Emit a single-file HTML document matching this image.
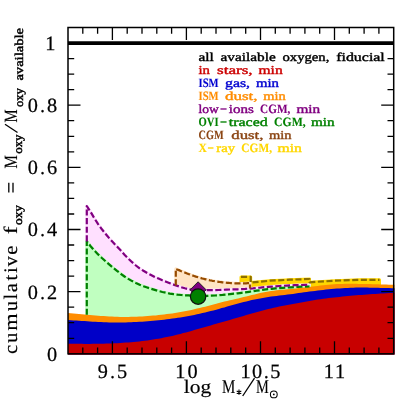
<!DOCTYPE html>
<html><head><meta charset="utf-8"><title>chart</title>
<style>
html,body{margin:0;padding:0;background:#fff;width:399px;height:399px;overflow:hidden;}
svg{display:block;position:absolute;left:0;top:0;will-change:transform;}
text{font-family:"Liberation Serif",serif;text-rendering:geometricPrecision;}
</style></head>
<body>
<svg width="399" height="399" viewBox="0 0 399 399">
<rect x="0" y="0" width="399" height="399" fill="#fff"/>
<path d="M241.0,276.9 L250.7,276.9 L250.7,282.6 L270.0,280.7 L290.0,279.7 L309.5,279.0 L309.5,282.3 L335.0,280.7 L360.0,279.8 L379.5,279.8 L379.5,287.4 L377.2,287.3 L374.8,287.3 L372.5,287.2 L370.1,287.1 L367.8,287.1 L365.4,287.0 L363.1,287.0 L360.7,286.9 L358.4,286.9 L356.0,286.8 L353.7,286.8 L351.3,286.8 L349.0,286.8 L346.6,286.8 L344.3,286.8 L341.9,286.9 L339.6,287.0 L337.2,287.1 L334.9,287.2 L332.6,287.4 L330.2,287.6 L327.9,287.8 L325.5,288.0 L323.2,288.2 L320.8,288.5 L318.5,288.8 L316.1,289.1 L313.8,289.3 L311.4,289.6 L309.1,289.9 L306.7,290.2 L304.4,290.5 L302.0,290.7 L299.7,291.0 L297.3,291.2 L295.0,291.5 L292.6,291.7 L290.3,292.0 L287.9,292.2 L285.6,292.4 L283.3,292.7 L280.9,292.9 L278.6,293.1 L276.2,293.4 L273.9,293.6 L271.5,294.0 L269.2,294.3 L266.8,294.8 L264.5,295.2 L262.1,295.7 L259.8,296.2 L257.4,296.7 L255.1,297.3 L252.7,297.9 L250.4,298.4 L248.0,299.0 L245.7,299.6 L243.3,300.2 L241.0,300.8Z" fill="#ffd700" stroke="#ffd700" stroke-width="3.0" stroke-linejoin="round"/>
<path d="M175.8,268.8 L177.1,269.4 L178.3,269.9 L179.6,270.4 L180.8,271.0 L182.1,271.5 L183.3,272.0 L184.6,272.5 L185.9,273.0 L187.1,273.5 L188.4,274.0 L189.6,274.4 L190.9,274.9 L192.1,275.3 L193.4,275.8 L194.7,276.2 L195.9,276.6 L197.2,277.0 L198.4,277.4 L199.7,277.8 L201.0,278.1 L202.2,278.5 L203.5,278.8 L204.7,279.1 L206.0,279.4 L207.2,279.7 L208.5,280.0 L209.8,280.3 L211.0,280.5 L212.3,280.8 L213.5,281.0 L214.8,281.2 L216.0,281.4 L217.3,281.6 L218.6,281.8 L219.8,282.0 L221.1,282.1 L222.3,282.3 L223.6,282.4 L224.8,282.5 L226.1,282.7 L227.4,282.8 L228.6,282.9 L229.9,283.0 L231.1,283.1 L232.4,283.1 L233.7,283.2 L234.9,283.3 L236.2,283.3 L237.4,283.4 L238.7,283.4 L239.9,283.4 L241.2,283.4 L242.5,283.4 L243.7,283.4 L245.0,283.3 L246.2,283.3 L247.5,283.2 L248.7,283.1 L250.0,283.0 L250.0,298.5 L248.7,298.8 L247.5,299.2 L246.2,299.5 L245.0,299.8 L243.7,300.1 L242.5,300.4 L241.2,300.7 L239.9,301.0 L238.7,301.3 L237.4,301.6 L236.2,301.9 L234.9,302.2 L233.7,302.5 L232.4,302.8 L231.1,303.1 L229.9,303.3 L228.6,303.6 L227.4,303.9 L226.1,304.2 L224.8,304.5 L223.6,304.8 L222.3,305.2 L221.1,305.5 L219.8,305.8 L218.6,306.1 L217.3,306.5 L216.0,306.8 L214.8,307.1 L213.5,307.5 L212.3,307.8 L211.0,308.1 L209.8,308.5 L208.5,308.8 L207.2,309.1 L206.0,309.4 L204.7,309.8 L203.5,310.1 L202.2,310.4 L201.0,310.7 L199.7,311.0 L198.4,311.3 L197.2,311.6 L195.9,311.9 L194.7,312.2 L193.4,312.4 L192.1,312.7 L190.9,313.0 L189.6,313.3 L188.4,313.5 L187.1,313.8 L185.9,314.0 L184.6,314.3 L183.3,314.5 L182.1,314.7 L180.8,315.0 L179.6,315.2 L178.3,315.4 L177.1,315.6 L175.8,315.8Z" fill="#ffe4c4" stroke="#ffe4c4" stroke-width="3.0" stroke-linejoin="round"/>
<path d="M86.8,206.0 L90.6,211.9 L94.3,218.2 L98.1,224.1 L101.9,229.3 L105.7,234.0 L109.4,238.4 L113.2,242.5 L117.0,246.6 L120.8,250.6 L124.5,254.7 L128.3,258.6 L132.1,262.2 L135.9,265.5 L139.6,268.4 L143.4,270.8 L147.2,273.0 L151.0,275.0 L154.7,276.9 L158.5,278.6 L162.3,280.3 L166.1,281.8 L169.8,283.2 L173.6,284.6 L177.4,285.9 L181.2,287.2 L184.9,288.3 L188.7,289.2 L192.5,289.7 L196.3,290.0 L200.0,290.1 L203.8,290.1 L207.6,290.1 L211.4,290.1 L215.1,290.1 L218.9,290.0 L222.7,289.8 L226.5,289.6 L230.2,289.5 L234.0,289.4 L237.8,289.3 L241.6,289.1 L245.3,288.9 L249.1,288.6 L252.9,288.3 L256.7,287.9 L260.4,287.6 L264.2,287.2 L268.0,286.9 L271.8,286.6 L275.5,286.3 L279.3,286.0 L283.1,285.8 L286.9,285.6 L290.6,285.4 L294.4,285.2 L298.2,285.1 L302.0,285.0 L305.7,284.9 L309.5,284.8 L309.5,289.9 L305.7,290.3 L302.0,290.7 L298.2,291.2 L294.4,291.6 L290.6,292.0 L286.9,292.3 L283.1,292.7 L279.3,293.0 L275.5,293.4 L271.8,293.9 L268.0,294.5 L264.2,295.3 L260.4,296.1 L256.7,296.9 L252.9,297.8 L249.1,298.8 L245.3,299.7 L241.6,300.6 L237.8,301.5 L234.0,302.4 L230.2,303.3 L226.5,304.1 L222.7,305.1 L218.9,306.0 L215.1,307.0 L211.4,308.0 L207.6,309.0 L203.8,310.0 L200.0,310.9 L196.3,311.8 L192.5,312.6 L188.7,313.4 L184.9,314.2 L181.2,314.9 L177.4,315.6 L173.6,316.2 L169.8,316.7 L166.1,317.2 L162.3,317.7 L158.5,318.1 L154.7,318.5 L151.0,318.8 L147.2,319.1 L143.4,319.3 L139.6,319.5 L135.9,319.7 L132.1,319.8 L128.3,319.9 L124.5,319.9 L120.8,319.9 L117.0,319.8 L113.2,319.6 L109.4,319.5 L105.7,319.3 L101.9,319.0 L98.1,318.8 L94.3,318.5 L90.6,318.1 L86.8,317.8Z" fill="#ffe0ff" stroke="#ffe0ff" stroke-width="3.0" stroke-linejoin="round"/>
<path d="M86.8,241.4 L90.6,246.2 L94.3,250.5 L98.1,254.4 L101.9,258.0 L105.7,261.4 L109.4,264.6 L113.2,267.8 L117.0,270.9 L120.8,273.8 L124.5,276.5 L128.3,278.9 L132.1,281.1 L135.9,283.0 L139.6,284.7 L143.4,286.2 L147.2,287.5 L151.0,288.8 L154.7,289.9 L158.5,291.0 L162.3,292.0 L166.1,292.8 L169.8,293.6 L173.6,294.2 L177.4,294.7 L181.2,295.0 L184.9,295.3 L188.7,295.4 L192.5,295.6 L196.3,295.7 L200.0,295.8 L203.8,295.8 L207.6,295.8 L211.4,295.7 L215.1,295.5 L218.9,295.2 L222.7,294.9 L226.5,294.5 L230.2,294.1 L234.0,293.7 L237.8,293.3 L241.6,292.8 L245.3,292.3 L249.1,291.8 L252.9,291.3 L256.7,290.7 L260.4,290.2 L264.2,289.7 L268.0,289.2 L271.8,288.8 L275.5,288.4 L279.3,288.1 L283.1,287.8 L286.9,287.5 L290.6,287.3 L294.4,287.1 L298.2,286.9 L302.0,286.7 L305.7,286.6 L309.5,286.5 L309.5,289.9 L305.7,290.3 L302.0,290.7 L298.2,291.2 L294.4,291.6 L290.6,292.0 L286.9,292.3 L283.1,292.7 L279.3,293.0 L275.5,293.4 L271.8,293.9 L268.0,294.5 L264.2,295.3 L260.4,296.1 L256.7,296.9 L252.9,297.8 L249.1,298.8 L245.3,299.7 L241.6,300.6 L237.8,301.5 L234.0,302.4 L230.2,303.3 L226.5,304.1 L222.7,305.1 L218.9,306.0 L215.1,307.0 L211.4,308.0 L207.6,309.0 L203.8,310.0 L200.0,310.9 L196.3,311.8 L192.5,312.6 L188.7,313.4 L184.9,314.2 L181.2,314.9 L177.4,315.6 L173.6,316.2 L169.8,316.7 L166.1,317.2 L162.3,317.7 L158.5,318.1 L154.7,318.5 L151.0,318.8 L147.2,319.1 L143.4,319.3 L139.6,319.5 L135.9,319.7 L132.1,319.8 L128.3,319.9 L124.5,319.9 L120.8,319.9 L117.0,319.8 L113.2,319.6 L109.4,319.5 L105.7,319.3 L101.9,319.0 L98.1,318.8 L94.3,318.5 L90.6,318.1 L86.8,317.8Z" fill="#c0ffc0" stroke="#c0ffc0" stroke-width="3.0" stroke-linejoin="round"/>
<path d="M68.0,313.1 L70.7,313.3 L73.5,313.6 L76.2,313.8 L79.0,314.1 L81.7,314.3 L84.5,314.6 L87.2,314.8 L89.9,315.1 L92.7,315.3 L95.4,315.6 L98.2,315.8 L100.9,316.0 L103.7,316.1 L106.4,316.3 L109.2,316.5 L111.9,316.6 L114.6,316.7 L117.4,316.8 L120.1,316.9 L122.9,316.9 L125.6,316.9 L128.4,316.9 L131.1,316.8 L133.8,316.8 L136.6,316.7 L139.3,316.5 L142.1,316.4 L144.8,316.2 L147.6,316.0 L150.3,315.8 L153.1,315.6 L155.8,315.4 L158.5,315.1 L161.3,314.8 L164.0,314.5 L166.8,314.1 L169.5,313.8 L172.3,313.4 L175.0,312.9 L177.7,312.5 L180.5,312.0 L183.2,311.5 L186.0,311.0 L188.7,310.4 L191.5,309.9 L194.2,309.3 L197.0,308.6 L199.7,308.0 L202.4,307.3 L205.2,306.7 L207.9,305.9 L210.7,305.2 L213.4,304.5 L216.2,303.8 L218.9,303.0 L221.6,302.3 L224.4,301.6 L227.1,301.0 L229.9,300.3 L232.6,299.7 L235.4,299.1 L238.1,298.4 L240.9,297.8 L243.6,297.1 L246.3,296.4 L249.1,295.8 L251.8,295.1 L254.6,294.4 L257.3,293.8 L260.1,293.1 L262.8,292.5 L265.5,292.0 L268.3,291.5 L271.0,291.0 L273.8,290.7 L276.5,290.3 L279.3,290.0 L282.0,289.8 L284.8,289.5 L287.5,289.3 L290.2,289.0 L293.0,288.7 L295.7,288.4 L298.5,288.1 L301.2,287.8 L304.0,287.5 L306.7,287.2 L309.4,286.9 L312.2,286.5 L314.9,286.2 L317.7,285.9 L320.4,285.6 L323.2,285.2 L325.9,285.0 L328.7,284.7 L331.4,284.5 L334.1,284.3 L336.9,284.1 L339.6,284.0 L342.4,283.9 L345.1,283.8 L347.9,283.8 L350.6,283.8 L353.3,283.8 L356.1,283.8 L358.8,283.9 L361.6,283.9 L364.3,284.0 L367.1,284.1 L369.8,284.1 L372.6,284.2 L375.3,284.3 L378.0,284.3 L380.8,284.4 L383.5,284.5 L386.3,284.6 L389.0,284.7 L391.8,284.8 L394.5,284.8 L394.5,354.5 L68.0,354.5Z" fill="#ff8c00"/>
<path d="M68.0,320.0 L70.7,320.2 L73.5,320.4 L76.2,320.6 L79.0,320.8 L81.7,320.9 L84.5,321.1 L87.2,321.3 L89.9,321.5 L92.7,321.7 L95.4,321.8 L98.2,322.0 L100.9,322.1 L103.7,322.2 L106.4,322.3 L109.2,322.4 L111.9,322.4 L114.6,322.5 L117.4,322.5 L120.1,322.5 L122.9,322.4 L125.6,322.4 L128.4,322.3 L131.1,322.2 L133.8,322.1 L136.6,322.0 L139.3,321.8 L142.1,321.7 L144.8,321.5 L147.6,321.3 L150.3,321.1 L153.1,320.8 L155.8,320.6 L158.5,320.3 L161.3,320.0 L164.0,319.7 L166.8,319.3 L169.5,319.0 L172.3,318.6 L175.0,318.2 L177.7,317.8 L180.5,317.4 L183.2,316.9 L186.0,316.4 L188.7,315.9 L191.5,315.4 L194.2,314.9 L197.0,314.3 L199.7,313.7 L202.4,313.1 L205.2,312.5 L207.9,311.8 L210.7,311.1 L213.4,310.4 L216.2,309.7 L218.9,308.9 L221.6,308.1 L224.4,307.4 L227.1,306.6 L229.9,305.8 L232.6,305.0 L235.4,304.3 L238.1,303.5 L240.9,302.8 L243.6,302.1 L246.3,301.4 L249.1,300.7 L251.8,300.1 L254.6,299.5 L257.3,299.0 L260.1,298.4 L262.8,297.9 L265.5,297.5 L268.3,297.0 L271.0,296.6 L273.8,296.3 L276.5,295.9 L279.3,295.6 L282.0,295.3 L284.8,294.9 L287.5,294.6 L290.2,294.2 L293.0,293.9 L295.7,293.5 L298.5,293.1 L301.2,292.7 L304.0,292.3 L306.7,292.0 L309.4,291.6 L312.2,291.2 L314.9,290.9 L317.7,290.5 L320.4,290.2 L323.2,289.9 L325.9,289.6 L328.7,289.3 L331.4,289.0 L334.1,288.8 L336.9,288.6 L339.6,288.4 L342.4,288.2 L345.1,288.0 L347.9,287.9 L350.6,287.8 L353.3,287.7 L356.1,287.6 L358.8,287.6 L361.6,287.6 L364.3,287.6 L367.1,287.6 L369.8,287.7 L372.6,287.7 L375.3,287.8 L378.0,287.8 L380.8,287.9 L383.5,288.0 L386.3,288.0 L389.0,288.1 L391.8,288.2 L394.5,288.2 L394.5,354.5 L68.0,354.5Z" fill="#0000c8"/>
<path d="M68.0,343.8 L70.7,343.8 L73.5,343.8 L76.2,343.8 L79.0,343.8 L81.7,343.8 L84.5,343.9 L87.2,343.9 L89.9,343.9 L92.7,343.8 L95.4,343.8 L98.2,343.8 L100.9,343.7 L103.7,343.7 L106.4,343.6 L109.2,343.5 L111.9,343.4 L114.6,343.3 L117.4,343.2 L120.1,343.0 L122.9,342.8 L125.6,342.6 L128.4,342.4 L131.1,342.2 L133.8,341.9 L136.6,341.7 L139.3,341.4 L142.1,341.1 L144.8,340.7 L147.6,340.4 L150.3,340.0 L153.1,339.6 L155.8,339.1 L158.5,338.7 L161.3,338.2 L164.0,337.6 L166.8,337.1 L169.5,336.5 L172.3,335.9 L175.0,335.2 L177.7,334.6 L180.5,333.9 L183.2,333.1 L186.0,332.4 L188.7,331.7 L191.5,330.9 L194.2,330.1 L197.0,329.3 L199.7,328.5 L202.4,327.7 L205.2,326.9 L207.9,326.2 L210.7,325.4 L213.4,324.6 L216.2,323.8 L218.9,323.0 L221.6,322.2 L224.4,321.5 L227.1,320.7 L229.9,319.9 L232.6,319.1 L235.4,318.3 L238.1,317.5 L240.9,316.7 L243.6,315.9 L246.3,315.1 L249.1,314.3 L251.8,313.5 L254.6,312.7 L257.3,311.9 L260.1,311.2 L262.8,310.5 L265.5,309.8 L268.3,309.1 L271.0,308.4 L273.8,307.8 L276.5,307.2 L279.3,306.6 L282.0,306.1 L284.8,305.5 L287.5,305.0 L290.2,304.5 L293.0,303.9 L295.7,303.4 L298.5,302.9 L301.2,302.4 L304.0,301.9 L306.7,301.4 L309.4,300.9 L312.2,300.4 L314.9,300.0 L317.7,299.6 L320.4,299.2 L323.2,298.8 L325.9,298.5 L328.7,298.1 L331.4,297.8 L334.1,297.5 L336.9,297.2 L339.6,296.9 L342.4,296.6 L345.1,296.3 L347.9,296.1 L350.6,295.8 L353.3,295.6 L356.1,295.3 L358.8,295.1 L361.6,294.9 L364.3,294.7 L367.1,294.5 L369.8,294.3 L372.6,294.1 L375.3,293.9 L378.0,293.7 L380.8,293.5 L383.5,293.4 L386.3,293.2 L389.0,293.0 L391.8,292.9 L394.5,292.7 L394.5,354.5 L68.0,354.5Z" fill="#c80000"/>
<path d="M86.8,314.8 L86.8,241.4 L90.6,246.2 L94.3,250.5 L98.1,254.4 L101.9,258.0 L105.7,261.4 L109.4,264.6 L113.2,267.8 L117.0,270.9 L120.8,273.8 L124.5,276.5 L128.3,278.9 L132.1,281.1 L135.9,283.0 L139.6,284.7 L143.4,286.2 L147.2,287.5 L151.0,288.8 L154.7,289.9 L158.5,291.0 L162.3,292.0 L166.1,292.8 L169.8,293.6 L173.6,294.2 L177.4,294.7 L181.2,295.0 L184.9,295.3 L188.7,295.4 L192.5,295.6 L196.3,295.7 L200.0,295.8 L203.8,295.8 L207.6,295.8 L211.4,295.7 L215.1,295.5 L218.9,295.2 L222.7,294.9 L226.5,294.5 L230.2,294.1 L234.0,293.7 L237.8,293.3 L241.6,292.8 L245.3,292.3 L249.1,291.8 L252.9,291.3 L256.7,290.7 L260.4,290.2 L264.2,289.7 L268.0,289.2 L271.8,288.8 L275.5,288.4 L279.3,288.1 L283.1,287.8 L286.9,287.5 L290.6,287.3 L294.4,287.1 L298.2,286.9 L302.0,286.7 L305.7,286.6 L309.5,286.5" stroke="#008000" stroke-width="2.2" fill="none" stroke-linejoin="round" stroke-dasharray="6.1 2.5"/>
<path d="M86.8,241.4 L86.8,206.0 L90.6,211.9 L94.3,218.2 L98.1,224.1 L101.9,229.3 L105.7,234.0 L109.4,238.4 L113.2,242.5 L117.0,246.6 L120.8,250.6 L124.5,254.7 L128.3,258.6 L132.1,262.2 L135.9,265.5 L139.6,268.4 L143.4,270.8 L147.2,273.0 L151.0,275.0 L154.7,276.9 L158.5,278.6 L162.3,280.3 L166.1,281.8 L169.8,283.2 L173.6,284.6 L177.4,285.9 L181.2,287.2 L184.9,288.3 L188.7,289.2 L192.5,289.7 L196.3,290.0 L200.0,290.1 L203.8,290.1 L207.6,290.1 L211.4,290.1 L215.1,290.1 L218.9,290.0 L222.7,289.8 L226.5,289.6 L230.2,289.5 L234.0,289.4 L237.8,289.3 L241.6,289.1 L245.3,288.9 L249.1,288.6 L252.9,288.3 L256.7,287.9 L260.4,287.6 L264.2,287.2 L268.0,286.9 L271.8,286.6 L275.5,286.3 L279.3,286.0 L283.1,285.8 L286.9,285.6 L290.6,285.4 L294.4,285.2 L298.2,285.1 L302.0,285.0 L305.7,284.9 L309.5,284.8" stroke="#800080" stroke-width="2.2" fill="none" stroke-linejoin="round" stroke-dasharray="6.1 2.5"/>
<path d="M175.8,285.4 L175.8,268.8 L177.1,269.4 L178.3,269.9 L179.6,270.4 L180.8,271.0 L182.1,271.5 L183.3,272.0 L184.6,272.5 L185.9,273.0 L187.1,273.5 L188.4,274.0 L189.6,274.4 L190.9,274.9 L192.1,275.3 L193.4,275.8 L194.7,276.2 L195.9,276.6 L197.2,277.0 L198.4,277.4 L199.7,277.8 L201.0,278.1 L202.2,278.5 L203.5,278.8 L204.7,279.1 L206.0,279.4 L207.2,279.7 L208.5,280.0 L209.8,280.3 L211.0,280.5 L212.3,280.8 L213.5,281.0 L214.8,281.2 L216.0,281.4 L217.3,281.6 L218.6,281.8 L219.8,282.0 L221.1,282.1 L222.3,282.3 L223.6,282.4 L224.8,282.5 L226.1,282.7 L227.4,282.8 L228.6,282.9 L229.9,283.0 L231.1,283.1 L232.4,283.1 L233.7,283.2 L234.9,283.3 L236.2,283.3 L237.4,283.4 L238.7,283.4 L239.9,283.4 L241.2,283.4 L242.5,283.4 L243.7,283.4 L245.0,283.3 L246.2,283.3 L247.5,283.2 L248.7,283.1 L250.0,283.0 L250.0,288.5" stroke="#964b00" stroke-width="2.2" fill="none" stroke-linejoin="round" stroke-dasharray="6.1 2.5"/>
<path d="M241.0,276.9 L250.7,276.9 L250.7,282.6 L270.0,280.7 L290.0,279.7 L309.5,279.0 L309.5,282.3 L335.0,280.7 L360.0,279.8 L379.5,279.8" stroke="#8c6e00" stroke-width="2.2" fill="none" stroke-linejoin="round" stroke-dasharray="6.1 2.5"/>
<path d="M198.1,281.8 L206.1,289.8 L198.1,297.8 L190.1,289.8Z" fill="#800080" stroke="#222" stroke-width="1"/>
<circle cx="198.1" cy="296.6" r="7.7" fill="#008000" stroke="#111" stroke-width="1.2"/>
<path d="M68.0,43.2 H393.7" stroke="#000" stroke-width="3.8"/>
<rect x="68.0" y="27.5" width="325.7" height="326.3" fill="none" stroke="#000" stroke-width="1.5"/>
<path d="M82.8,353.8 v-6.2 M82.8,27.5 v6.2 M97.6,353.8 v-6.2 M97.6,27.5 v6.2 M112.4,353.8 v-12.5 M112.4,27.5 v12.5 M127.2,353.8 v-6.2 M127.2,27.5 v6.2 M142.0,353.8 v-6.2 M142.0,27.5 v6.2 M156.8,353.8 v-6.2 M156.8,27.5 v6.2 M171.6,353.8 v-6.2 M171.6,27.5 v6.2 M186.4,353.8 v-12.5 M186.4,27.5 v12.5 M201.2,353.8 v-6.2 M201.2,27.5 v6.2 M216.0,353.8 v-6.2 M216.0,27.5 v6.2 M230.8,353.8 v-6.2 M230.8,27.5 v6.2 M245.7,353.8 v-6.2 M245.7,27.5 v6.2 M260.5,353.8 v-12.5 M260.5,27.5 v12.5 M275.3,353.8 v-6.2 M275.3,27.5 v6.2 M290.1,353.8 v-6.2 M290.1,27.5 v6.2 M304.9,353.8 v-6.2 M304.9,27.5 v6.2 M319.7,353.8 v-6.2 M319.7,27.5 v6.2 M334.5,353.8 v-12.5 M334.5,27.5 v12.5 M349.3,353.8 v-6.2 M349.3,27.5 v6.2 M364.1,353.8 v-6.2 M364.1,27.5 v6.2 M378.9,353.8 v-6.2 M378.9,27.5 v6.2 M68.0,338.3 h6.2 M393.7,338.3 h-6.2 M68.0,322.7 h6.2 M393.7,322.7 h-6.2 M68.0,307.2 h6.2 M393.7,307.2 h-6.2 M68.0,291.6 h12.5 M393.7,291.6 h-12.5 M68.0,276.1 h6.2 M393.7,276.1 h-6.2 M68.0,260.6 h6.2 M393.7,260.6 h-6.2 M68.0,245.0 h6.2 M393.7,245.0 h-6.2 M68.0,229.5 h12.5 M393.7,229.5 h-12.5 M68.0,214.0 h6.2 M393.7,214.0 h-6.2 M68.0,198.4 h6.2 M393.7,198.4 h-6.2 M68.0,182.9 h6.2 M393.7,182.9 h-6.2 M68.0,167.3 h12.5 M393.7,167.3 h-12.5 M68.0,151.8 h6.2 M393.7,151.8 h-6.2 M68.0,136.3 h6.2 M393.7,136.3 h-6.2 M68.0,120.7 h6.2 M393.7,120.7 h-6.2 M68.0,105.2 h12.5 M393.7,105.2 h-12.5 M68.0,89.7 h6.2 M393.7,89.7 h-6.2 M68.0,74.1 h6.2 M393.7,74.1 h-6.2 M68.0,58.6 h6.2 M393.7,58.6 h-6.2 M68.0,43.0 h12.5 M393.7,43.0 h-12.5" stroke="#000" stroke-width="1.3" fill="none"/>
<text x="113.4" y="377.9" font-size="20.3" text-anchor="middle" letter-spacing="1.95" stroke="#000" stroke-width="0.25">9.5</text>
<text x="187.4" y="377.9" font-size="20.3" text-anchor="middle" letter-spacing="1.95" stroke="#000" stroke-width="0.25">10</text>
<text x="261.4" y="377.9" dx="0 -0.6 -0.5 -0.5" font-size="20.3" text-anchor="middle" letter-spacing="1.95" stroke="#000" stroke-width="0.25">10.5</text>
<text x="335.5" y="377.9" font-size="20.3" text-anchor="middle" letter-spacing="1.95" stroke="#000" stroke-width="0.25">11</text>
<text x="59.0" y="360.7" font-size="20.3" text-anchor="end" letter-spacing="1.95" stroke="#000" stroke-width="0.25">0</text>
<text x="59.0" y="298.5" font-size="20.3" text-anchor="end" letter-spacing="1.95" stroke="#000" stroke-width="0.25">0.2</text>
<text x="59.0" y="236.4" font-size="20.3" text-anchor="end" letter-spacing="1.95" stroke="#000" stroke-width="0.25">0.4</text>
<text x="59.0" y="174.2" font-size="20.3" text-anchor="end" letter-spacing="1.95" stroke="#000" stroke-width="0.25">0.6</text>
<text x="59.0" y="112.1" font-size="20.3" text-anchor="end" letter-spacing="1.95" stroke="#000" stroke-width="0.25">0.8</text>
<text x="57.4" y="49.9" font-size="20.3" text-anchor="end" letter-spacing="1.95" stroke="#000" stroke-width="0.25">1</text>
<text x="198.5" y="60.7" font-size="12.1" fill="#000000" stroke="#000000" stroke-width="0.38" font-weight="normal" textLength="15.3" lengthAdjust="spacingAndGlyphs">all</text>
<text x="220.6" y="60.7" font-size="12.1" fill="#000000" stroke="#000000" stroke-width="0.38" font-weight="normal" textLength="55.1" lengthAdjust="spacingAndGlyphs">available</text>
<text x="282.5" y="60.7" font-size="12.1" fill="#000000" stroke="#000000" stroke-width="0.38" font-weight="normal" textLength="46.9" lengthAdjust="spacingAndGlyphs">oxygen,</text>
<text x="336.2" y="60.7" font-size="12.1" fill="#000000" stroke="#000000" stroke-width="0.38" font-weight="normal" textLength="48.6" lengthAdjust="spacingAndGlyphs">fiducial</text>
<text x="198.5" y="73.8" font-size="12.1" fill="#cc0000" stroke="#cc0000" stroke-width="0.38" font-weight="normal" textLength="11.5" lengthAdjust="spacingAndGlyphs">in</text>
<text x="217.0" y="73.8" font-size="12.1" fill="#cc0000" stroke="#cc0000" stroke-width="0.38" font-weight="normal" textLength="35.6" lengthAdjust="spacingAndGlyphs">stars,</text>
<text x="258.5" y="73.8" font-size="12.1" fill="#cc0000" stroke="#cc0000" stroke-width="0.38" font-weight="normal" textLength="24.2" lengthAdjust="spacingAndGlyphs">min</text>
<text x="198.5" y="86.9" font-size="12.7" fill="#0000d0" stroke="#0000d0" stroke-width="0.12" font-weight="bold" textLength="20.1" lengthAdjust="spacingAndGlyphs">ISM</text>
<text x="225.0" y="86.9" font-size="12.1" fill="#0000d0" stroke="#0000d0" stroke-width="0.38" font-weight="normal" textLength="25.1" lengthAdjust="spacingAndGlyphs">gas,</text>
<text x="256.0" y="86.9" font-size="12.1" fill="#0000d0" stroke="#0000d0" stroke-width="0.38" font-weight="normal" textLength="23.0" lengthAdjust="spacingAndGlyphs">min</text>
<text x="198.5" y="100.0" font-size="12.7" fill="#ff8c00" stroke="#ff8c00" stroke-width="0.12" font-weight="bold" textLength="20.1" lengthAdjust="spacingAndGlyphs">ISM</text>
<text x="225.0" y="100.0" font-size="12.1" fill="#ff8c00" stroke="#ff8c00" stroke-width="0.38" font-weight="normal" textLength="32.6" lengthAdjust="spacingAndGlyphs">dust,</text>
<text x="263.2" y="100.0" font-size="12.1" fill="#ff8c00" stroke="#ff8c00" stroke-width="0.38" font-weight="normal" textLength="22.5" lengthAdjust="spacingAndGlyphs">min</text>
<text x="198.5" y="113.1" font-size="12.1" fill="#800080" stroke="#800080" stroke-width="0.38" font-weight="normal" textLength="20.3" lengthAdjust="spacingAndGlyphs">low</text>
<text x="220.0" y="113.1" font-size="12.1" fill="#800080" stroke="#800080" stroke-width="0.38" font-weight="normal" textLength="7.0" lengthAdjust="spacingAndGlyphs">−</text>
<text x="228.8" y="113.1" font-size="12.1" fill="#800080" stroke="#800080" stroke-width="0.38" font-weight="normal" textLength="25.1" lengthAdjust="spacingAndGlyphs">ions</text>
<text x="260.1" y="113.1" font-size="12.7" fill="#800080" stroke="#800080" stroke-width="0.12" font-weight="bold" textLength="30.2" lengthAdjust="spacingAndGlyphs">CGM,</text>
<text x="296.4" y="113.1" font-size="12.1" fill="#800080" stroke="#800080" stroke-width="0.38" font-weight="normal" textLength="23.8" lengthAdjust="spacingAndGlyphs">min</text>
<text x="198.5" y="126.2" font-size="12.7" fill="#008000" stroke="#008000" stroke-width="0.12" font-weight="bold" textLength="20.1" lengthAdjust="spacingAndGlyphs">OVI</text>
<text x="220.0" y="126.2" font-size="12.1" fill="#008000" stroke="#008000" stroke-width="0.38" font-weight="normal" textLength="7.0" lengthAdjust="spacingAndGlyphs">−</text>
<text x="228.8" y="126.2" font-size="12.1" fill="#008000" stroke="#008000" stroke-width="0.38" font-weight="normal" textLength="38.9" lengthAdjust="spacingAndGlyphs">traced</text>
<text x="274.1" y="126.2" font-size="12.7" fill="#008000" stroke="#008000" stroke-width="0.12" font-weight="bold" textLength="31.6" lengthAdjust="spacingAndGlyphs">CGM,</text>
<text x="311.0" y="126.2" font-size="12.1" fill="#008000" stroke="#008000" stroke-width="0.38" font-weight="normal" textLength="23.7" lengthAdjust="spacingAndGlyphs">min</text>
<text x="198.5" y="139.3" font-size="12.7" fill="#8b4513" stroke="#8b4513" stroke-width="0.12" font-weight="bold" textLength="25.1" lengthAdjust="spacingAndGlyphs">CGM</text>
<text x="231.3" y="139.3" font-size="12.1" fill="#8b4513" stroke="#8b4513" stroke-width="0.38" font-weight="normal" textLength="32.1" lengthAdjust="spacingAndGlyphs">dust,</text>
<text x="268.9" y="139.3" font-size="12.1" fill="#8b4513" stroke="#8b4513" stroke-width="0.38" font-weight="normal" textLength="22.5" lengthAdjust="spacingAndGlyphs">min</text>
<text x="198.5" y="152.4" font-size="12.7" fill="#ffd700" stroke="#ffd700" stroke-width="0.12" font-weight="bold" textLength="8.4" lengthAdjust="spacingAndGlyphs">X</text>
<text x="207.5" y="152.4" font-size="12.1" fill="#ffd700" stroke="#ffd700" stroke-width="0.38" font-weight="normal" textLength="6.3" lengthAdjust="spacingAndGlyphs">−</text>
<text x="216.3" y="152.4" font-size="12.1" fill="#ffd700" stroke="#ffd700" stroke-width="0.38" font-weight="normal" textLength="18.8" lengthAdjust="spacingAndGlyphs">ray</text>
<text x="241.3" y="152.4" font-size="12.7" fill="#ffd700" stroke="#ffd700" stroke-width="0.12" font-weight="bold" textLength="30.7" lengthAdjust="spacingAndGlyphs">CGM,</text>
<text x="277.4" y="152.4" font-size="12.1" fill="#ffd700" stroke="#ffd700" stroke-width="0.38" font-weight="normal" textLength="24.5" lengthAdjust="spacingAndGlyphs">min</text>
<text x="183.7" y="392.7" font-size="19.0" fill="#000" stroke="#000" stroke-width="0.15" font-weight="normal" textLength="27.5" lengthAdjust="spacingAndGlyphs">log</text>
<text x="222.1" y="392.7" font-size="19.4" fill="#000" stroke="#000" stroke-width="0.15" font-weight="normal" textLength="13.3" lengthAdjust="spacingAndGlyphs">M</text>
<path d="M239,389.6 v5.2 M236.7,390.9 l4.6,2.6 M236.7,393.5 l4.6,-2.6" stroke="#000" stroke-width="1.1" fill="none"/>
<path d="M242.7,396 L254.5,378.2" stroke="#000" stroke-width="1.3"/>
<text x="256.0" y="392.7" font-size="19.4" fill="#000" stroke="#000" stroke-width="0.15" font-weight="normal" textLength="12.8" lengthAdjust="spacingAndGlyphs">M</text>
<circle cx="273.8" cy="394.4" r="3.4" fill="none" stroke="#000" stroke-width="1.05"/><circle cx="273.8" cy="394.4" r="0.9" fill="#000"/>
<g transform="translate(17.2,351.8) rotate(-90)">
<text transform="translate(2.39,0) scale(1.08,1)" x="0" y="0" font-size="19.2" text-anchor="middle" stroke="#000" stroke-width="0.15">c</text>
<text transform="translate(13.92,0) scale(1.08,1)" x="0" y="0" font-size="19.2" text-anchor="middle" stroke="#000" stroke-width="0.15">u</text>
<text transform="translate(29.77,0) scale(1.16,1)" x="0" y="0" font-size="19.2" text-anchor="middle" stroke="#000" stroke-width="0.15">m</text>
<text transform="translate(45.63,0) scale(1.08,1)" x="0" y="0" font-size="19.2" text-anchor="middle" stroke="#000" stroke-width="0.15">u</text>
<text transform="translate(55.14,0) scale(1.08,1)" x="0" y="0" font-size="19.2" text-anchor="middle" stroke="#000" stroke-width="0.15">l</text>
<text transform="translate(64.07,0) scale(1.08,1)" x="0" y="0" font-size="19.2" text-anchor="middle" stroke="#000" stroke-width="0.15">a</text>
<text transform="translate(74.16,0) scale(1.08,1)" x="0" y="0" font-size="19.2" text-anchor="middle" stroke="#000" stroke-width="0.15">t</text>
<text transform="translate(81.66,0) scale(1.08,1)" x="0" y="0" font-size="19.2" text-anchor="middle" stroke="#000" stroke-width="0.15">i</text>
<text transform="translate(90.59,0) scale(1.08,1)" x="0" y="0" font-size="19.2" text-anchor="middle" stroke="#000" stroke-width="0.15">v</text>
<text transform="translate(101.55,0) scale(1.08,1)" x="0" y="0" font-size="19.2" text-anchor="middle" stroke="#000" stroke-width="0.15">e</text>
<text transform="translate(121.4,0) scale(1.22,1)" x="0" y="0" font-size="19.2" text-anchor="middle" stroke="#000" stroke-width="0.15">f</text>
<text x="126.9" y="5.2" font-size="12.0" fill="#000" stroke="#000" stroke-width="0.45" font-weight="normal" textLength="19.9" lengthAdjust="spacingAndGlyphs">oxy</text>
<path d="M159.4,-4.2 h9.7 M159.4,-8.4 h9.7" stroke="#000" stroke-width="1.3"/>
<text x="183.4" y="0.0" font-size="18.7" fill="#000" stroke="#000" stroke-width="0.15" font-weight="normal" textLength="13.3" lengthAdjust="spacingAndGlyphs">M</text>
<text x="198.0" y="5.2" font-size="12.0" fill="#000" stroke="#000" stroke-width="0.45" font-weight="normal" textLength="19.3" lengthAdjust="spacingAndGlyphs">oxy</text>
<path d="M219.3,0.3 L227.5,-12.2" stroke="#000" stroke-width="1.3"/>
<text x="229.3" y="0.0" font-size="18.7" fill="#000" stroke="#000" stroke-width="0.15" font-weight="normal" textLength="13.2" lengthAdjust="spacingAndGlyphs">M</text>
<text x="244.7" y="5.3" font-size="12.0" fill="#000" stroke="#000" stroke-width="0.45" font-weight="normal" textLength="19.0" lengthAdjust="spacingAndGlyphs">oxy</text>
<text x="271.2" y="5.3" font-size="12.0" fill="#000" stroke="#000" stroke-width="0.45" font-weight="normal" textLength="52.6" lengthAdjust="spacingAndGlyphs">available</text>
</g>
</svg>
</body></html>
